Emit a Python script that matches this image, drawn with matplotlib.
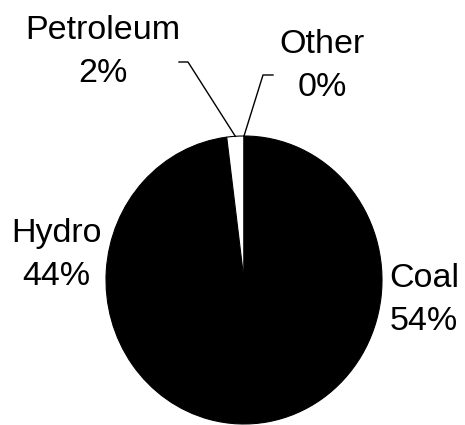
import numpy as np
import matplotlib
matplotlib.use("Agg")
import matplotlib.pyplot as plt
from matplotlib.lines import Line2D

plt.rcParams['font.family'] = ['Liberation Sans', 'DejaVu Sans']

# fuel shares, clockwise from 12 o'clock
sources = ['Coal', 'Hydro', 'Petroleum', 'Other']
shares = [54, 44, 2, 0]
fills = ['black', 'black', 'white', 'white']

W, H = 465, 425


def px(x, y):
    # pixel position (top-left origin) -> figure fraction
    return x / W, 1 - y / H


fig = plt.figure(figsize=(W / 100, H / 100), dpi=100)
# pie is slightly taller than wide in the scan, so let the axes stretch it
ax = fig.add_axes([106 / W, 1 / H, 276 / W, 288 / H])
wedges, _ = ax.pie(shares, colors=fills, startangle=90, counterclock=False,
                   radius=1, wedgeprops=dict(edgecolor='black', linewidth=0.8))
ax.set_xlim(-1, 1)
ax.set_ylim(-1, 1)
ax.set_aspect('auto')
ax.axis('off')

# label positions (centre of each text block, pixels)
label_pos = {
    'Coal': (424, 300),
    'Hydro': (56, 255),
    'Petroleum': (103, 52),
    'Other': (322, 66),
}
fs = 24.5
for name, val in zip(sources, shares):
    x, y = label_pos[name]
    fx, fy = px(x, y)
    fig.text(fx, fy, f'{name}\n{val}%', ha='center', va='center',
             fontsize=fs, linespacing=1.5, color='black')

# leader lines for the two tiny slices
leader_start = {
    'Petroleum': [(179, 62), (188, 62)],
    'Other': [(273, 75), (263, 75)],
}
for w, name in zip(wedges, sources):
    if name not in leader_start:
        continue
    mid = np.deg2rad((w.theta1 + w.theta2) / 2)
    tip = ax.transData.transform((np.cos(mid), np.sin(mid)))
    tip = fig.transFigure.inverted().transform(tip)
    pts = [px(*p) for p in leader_start[name]] + [tuple(tip)]
    xs = [p[0] for p in pts]
    ys = [p[1] for p in pts]
    fig.add_artist(Line2D(xs, ys, transform=fig.transFigure,
                          color='black', linewidth=1.0))

fig.savefig('out.png', dpi=100)
